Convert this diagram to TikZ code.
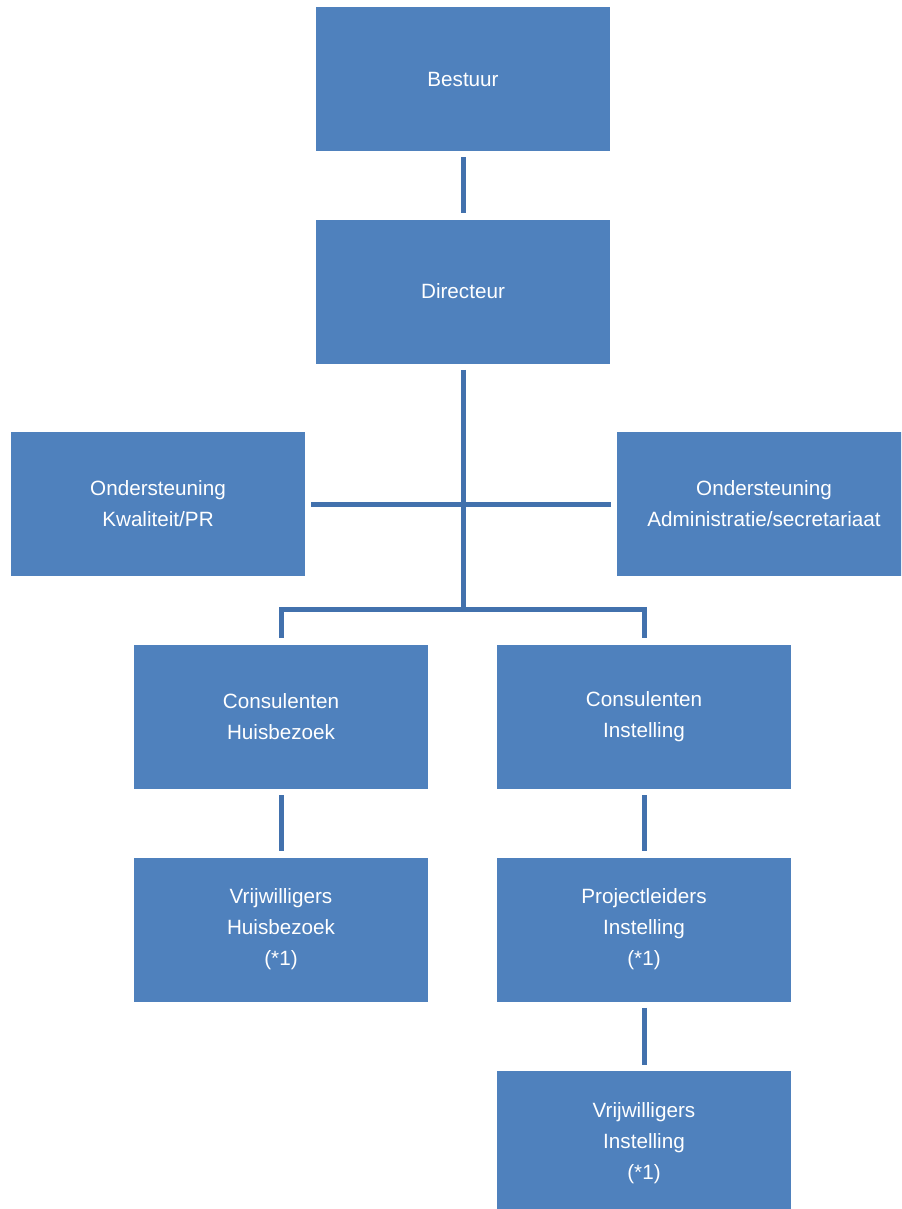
\documentclass[tikz,border=0pt]{standalone}
\usepackage{fontspec}
\setmainfont{Liberation Sans}
\definecolor{boxblue}{HTML}{4F81BD}
\definecolor{lineblue}{HTML}{4271AD}
\begin{document}
\begin{tikzpicture}[x=.75pt,y=-.75pt]

      \clip (0,0) rectangle (901,1209);
      \useasboundingbox (0,0) rectangle (901,1209);

      \begin{scope}[every node/.style={rectangle, fill=boxblue, text=white,
          minimum width=220.5pt, minimum height=108pt, inner sep=0pt,
          align=center, font=\fontsize{15.5}{23.3}\selectfont}]
        \node (best)  at (463,79)    {Bestuur};
        \node (dir)   at (463,291.5) {Directeur};
        \node (kwal)  at (158,504)   {Ondersteuning\\Kwaliteit/PR};
        \node (adm)   at (764,504)   {Ondersteuning\\Administratie/secretariaat};
        \node (conh)  at (281,717)   {Consulenten\\Huisbezoek};
        \node (coni)  at (644,717)   {Consulenten\\Instelling};
        \node (vrijh) at (281,929.5) {Vrijwilligers\\Huisbezoek\\(*1)};
        \node (proj)  at (644,929.5) {Projectleiders\\Instelling\\(*1)};
        \node (vriji) at (644,1143)  {Vrijwilligers\\Instelling\\(*1)};
      \end{scope}

      \coordinate (split) at (463,609);

      \begin{scope}[every edge/.style={draw=lineblue, line width=3.75pt}]
        \path (best)  edge[shorten <=4.5pt, shorten >=4.5pt] (dir);
        \path (dir)   edge[shorten <=4.5pt] (split);
        \path (kwal)  edge[shorten <=4.5pt, shorten >=4.5pt] (adm);
        \path (conh)  edge[shorten <=4.5pt, shorten >=4.5pt] (vrijh);
        \path (coni)  edge[shorten <=4.5pt, shorten >=4.5pt] (proj);
        \path (proj)  edge[shorten <=4.5pt, shorten >=4.5pt] (vriji);
      \end{scope}
      \draw[lineblue, line width=3.75pt, shorten >=5pt] (split) -| (conh);
      \draw[lineblue, line width=3.75pt, shorten >=5pt] (split) -| (coni);

    \end{tikzpicture}
\end{document}
